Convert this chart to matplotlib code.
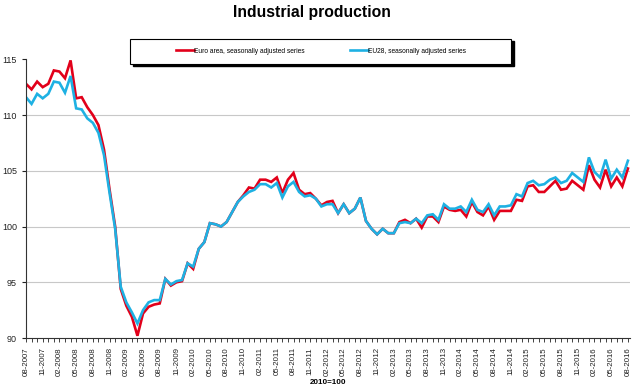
import numpy as np
import pandas as pd
import matplotlib.pyplot as plt
from matplotlib.patches import Rectangle

plt.rcParams['font.family'] = ['Liberation Sans', 'DejaVu Sans']

# monthly index, 2010=100, 08-2007 .. 08-2016
months = pd.date_range('2007-08-01', periods=109, freq='MS')
month_labels = [d.strftime('%m-%Y') for d in months]

euro_area = [
    112.8, 112.3, 113.0, 112.5, 112.8, 114.0, 113.9, 113.3, 114.9, 111.5,
    111.6, 110.7, 110.0, 109.1, 106.9, 103.3, 100.0, 94.4, 92.9, 91.9,
    90.2, 92.2, 92.8, 93.0, 93.1, 95.3, 94.7, 95.0, 95.1, 96.7,
    96.2, 98.0, 98.6, 100.3, 100.2, 100.0, 100.4, 101.3, 102.2, 102.8,
    103.5, 103.4, 104.2, 104.2, 104.0, 104.4, 103.0, 104.2, 104.8, 103.3,
    102.9, 103.0, 102.5, 101.9, 102.2, 102.3, 101.2, 102.0, 101.2, 101.6,
    102.6, 100.5, 99.8, 99.3, 99.8, 99.4, 99.4, 100.4, 100.6, 100.3,
    100.7, 99.9, 100.9, 100.9, 100.4, 101.8, 101.5, 101.4, 101.5, 100.9,
    102.2, 101.3, 101.0, 101.8, 100.6, 101.4, 101.4, 101.4, 102.4, 102.3,
    103.6, 103.7, 103.1, 103.1, 103.6, 104.1, 103.3, 103.4, 104.1, 103.7,
    103.3, 105.5, 104.2, 103.5, 105.1, 103.6, 104.4, 103.6, 105.2,
]
eu28 = [
    111.6, 111.0, 111.9, 111.5, 111.9, 113.0, 112.9, 112.0, 113.5, 110.6,
    110.5, 109.7, 109.3, 108.4, 106.4, 103.0, 99.8, 94.6, 93.2, 92.3,
    91.3, 92.5, 93.2, 93.4, 93.4, 95.3, 94.8, 95.1, 95.2, 96.7,
    96.4, 98.0, 98.6, 100.3, 100.2, 100.0, 100.4, 101.3, 102.2, 102.7,
    103.1, 103.3, 103.8, 103.8, 103.5, 103.9, 102.6, 103.6, 104.0, 103.1,
    102.7, 102.8, 102.5, 101.8, 102.0, 102.0, 101.2, 102.0, 101.2, 101.6,
    102.6, 100.5, 99.8, 99.3, 99.8, 99.4, 99.4, 100.3, 100.4, 100.3,
    100.7, 100.3, 101.0, 101.1, 100.6, 102.0, 101.6, 101.6, 101.8, 101.3,
    102.4, 101.5, 101.3, 102.0, 101.0, 101.8, 101.8, 101.9, 102.9, 102.7,
    103.9, 104.1, 103.7, 103.8, 104.2, 104.4, 103.9, 104.1, 104.8, 104.4,
    104.0, 106.2, 104.9, 104.4, 106.0, 104.3, 105.1, 104.4, 105.9,
]

red = '#e2001a'
blue = '#1eb1e3'

fig = plt.figure(figsize=(6.4, 3.87), dpi=100)
ax = fig.add_axes([0.0406, 0.1266, 0.944, 0.7202])

x = np.arange(len(months))
ax.plot(x, euro_area, color=red, lw=1.9, solid_joinstyle='miter',
        label='Euro area, seasonally adjusted series')
ax.plot(x, eu28, color=blue, lw=1.9, solid_joinstyle='miter',
        label='EU28, seasonally adjusted series')

ax.set_xlim(0, len(months) - 0.6)
ax.set_ylim(90, 115)
ax.set_yticks([90, 95, 100, 105, 110, 115])
ax.tick_params(axis='y', labelsize=6.5, length=3, width=0.8, colors='#222222')
for v in [95, 100, 105, 110]:
    ax.axhline(v, color='#c8c8c8', lw=0.8, zorder=0)

ax.set_xticks(x, minor=True)
ax.set_xticks(x[::3])
ax.set_xticklabels(month_labels[::3], rotation=90, fontsize=5.7)
ax.tick_params(axis='x', which='both', length=3, width=0.6, colors='#222222')
ax.set_xlabel('2010=100', fontsize=5.8, fontweight='bold', labelpad=2)

for s in ['top', 'right']:
    ax.spines[s].set_visible(False)
for s in ['left', 'bottom']:
    ax.spines[s].set_color('#333333')
    ax.spines[s].set_linewidth(0.8)

fig.text(0.487, 0.968, 'Industrial production', ha='center', va='center',
         fontsize=11.3, fontweight='bold')

# legend box with shadow
bx, by, bw, bh = 130 / 640, 1 - 63.5 / 387, 381 / 640, 24.5 / 387
fig.patches.append(Rectangle((bx + 2.5 / 640, by - 2.5 / 387), bw, bh,
                             transform=fig.transFigure, facecolor='black',
                             edgecolor='black', zorder=1))
fig.patches.append(Rectangle((bx, by), bw, bh, transform=fig.transFigure,
                             facecolor='white', edgecolor='black', lw=0.8,
                             zorder=2))
fig.legend(loc='center', bbox_to_anchor=(0.5016, by + bh / 2), ncol=2,
           frameon=False, fontsize=4.8, handlelength=2.7, handletextpad=0.1,
           columnspacing=6.7)

fig.savefig('out.png', dpi=100)
